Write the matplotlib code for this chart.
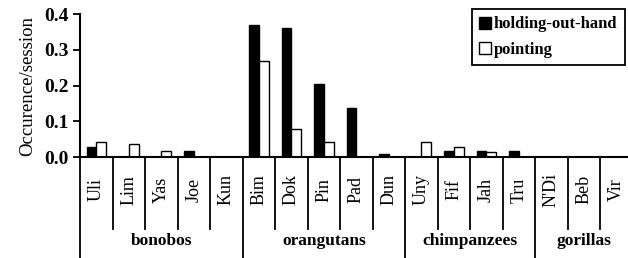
import numpy as np
from matplotlib import pyplot as plt
from matplotlib.transforms import blended_transform_factory

animals = ["Uli", "Lim", "Yas", "Joe", "Kun",
           "Bim", "Dok", "Pin", "Pad", "Dun",
           "Uny", "Fif", "Jah", "Tru",
           "N'Di", "Beb", "Vir"]
groups = ["bonobos", "orangutans", "chimpanzees", "gorillas"]
group_sizes = [5, 5, 4, 3]

holding = [0.028, 0, 0, 0.018, 0,
           0.369, 0.360, 0.203, 0.136, 0.009,
           0, 0.016, 0.016, 0.016,
           0, 0, 0]
pointing = [0.042, 0.035, 0.017, 0, 0,
            0.269, 0.077, 0.043, 0, 0,
            0.043, 0.029, 0.013, 0,
            0, 0, 0]

plt.rcParams["font.family"] = ["Liberation Serif", "DejaVu Serif"]

fig = plt.figure(figsize=(6.28, 2.58), dpi=100)
ax = fig.add_axes([80 / 628, 101 / 258, 552.5 / 628, 143 / 258])

x = np.arange(len(animals))
w = 0.3
ax.bar(x - w / 2, holding, w, color="black", edgecolor="black", lw=1,
       label="holding-out-hand")
ax.bar(x + w / 2, pointing, w, color="white", edgecolor="black", lw=1,
       label="pointing")

ax.set_xlim(-0.5, len(animals) - 0.5)
ax.set_ylim(0, 0.4)
ax.set_yticks([0, 0.1, 0.2, 0.3, 0.4])
ax.set_yticklabels(["0.0", "0.1", "0.2", "0.3", "0.4"], fontweight="bold", fontsize=14)
ax.tick_params(axis="y", direction="out", length=5, width=1.3, pad=3)
ax.set_xticks([])
for s in ["top", "right"]:
    ax.spines[s].set_visible(False)
ax.spines["left"].set_linewidth(1.5)
ax.spines["bottom"].set_linewidth(1.5)
ax.set_ylabel("Occurence/session", fontsize=13.5, labelpad=6)

tr = blended_transform_factory(ax.transData, ax.transAxes)
bounds = np.cumsum([0] + group_sizes) - 0.5
for b in np.arange(len(animals) + 1) - 0.5:
    low = -0.72 if b in bounds else -0.50
    ax.plot([b, b], [0, low], color="black", lw=1.3, transform=tr, clip_on=False)

for i, name in enumerate(animals):
    ax.text(i, -0.23, name, rotation=90, ha="center", va="center",
            fontsize=13, transform=tr)

for g, lo, hi in zip(groups, bounds[:-1], bounds[1:]):
    ax.text((lo + hi) / 2, -0.585, g, ha="center", va="center",
            fontsize=12.5, fontweight="bold", transform=tr)

leg = ax.legend(loc="upper right", bbox_to_anchor=(625 / 628, 1 - 9 / 258),
                bbox_transform=fig.transFigure, borderaxespad=0, fancybox=False,
                edgecolor="black", framealpha=1, handlelength=0.7,
                handleheight=0.7, handletextpad=0.2, borderpad=0.45,
                labelspacing=0.55, prop={"weight": "bold", "size": 12})
leg.get_frame().set_linewidth(1.3)

plt.savefig("out.png", dpi=100)
